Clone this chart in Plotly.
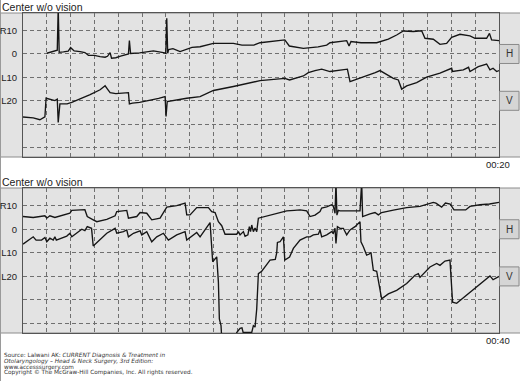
import plotly.graph_objects as go

W, H = 520, 381

# ---------------- data (seconds within panel, degrees; R = +, L = -) ----------------
top_h_t = [1.0, 1.2, 1.34, 1.44, 1.48, 1.52, 1.7, 1.9, 2.0, 2.15, 2.4, 2.6, 2.75, 3.0, 3.24, 3.45, 3.55,
           3.66, 3.72, 3.9, 4.1, 4.35, 4.43, 4.47, 4.52, 4.9, 5.48, 5.9, 6.0, 6.04, 6.08, 6.12, 6.3, 6.6,
           6.88, 7.1, 7.44, 8.0, 8.84, 9.2, 9.7, 9.96, 11.0, 11.19, 11.78, 12.4, 12.76, 12.9, 13.6, 13.7,
           13.78, 14.2, 14.86, 15.35, 15.7, 15.98, 16.4, 16.75, 16.89, 17.24, 17.52, 17.8, 18.01, 18.36,
           18.78, 18.99, 19.48, 19.6, 19.69, 20.0]
top_h_v = [0.3, 0.9, 1.4, 1.6, 20, 0.7, 0.9, 1.2, 2.7, 1.3, 1.0, 0.6, -0.6, -0.6, -1.1, -1.4, -1.0,
           0.6, -1.8, -1.6, -0.9, -0.3, 0.0, 5.7, 0.2, 0.5, 1.3, 0.6, 0.3, 15.2, 0.3, 1.9, 2.3, 1.0,
           1.9, 2.8, 3.1, 4.5, 4.5, 3.8, 3.8, 4.8, 6.0, 3.4, 2.4, 3.0, 3.8, 4.8, 5.7, 3.4,
           5.3, 4.8, 4.8, 6.3, 8.1, 9.8, 9.6, 9.9, 6.7, 6.3, 4.1, 4.5, 7.1, 8.4,
           7.7, 6.7, 6.7, 8.8, 6.0, 5.7]

top_v_t = [0.0, 0.43, 0.71, 0.85, 0.92, 0.97, 1.1, 1.34, 1.44, 1.48, 1.55, 1.85, 2.05, 2.39, 2.82, 3.24,
           3.45, 3.55, 3.66, 3.9, 4.43, 4.47, 4.6, 4.9, 5.34, 5.7, 5.97, 6.01, 6.06, 6.45, 6.88, 7.44,
           8.0, 8.84, 9.96, 11.0, 11.2, 11.78, 11.99, 12.27, 12.55, 12.9, 13.3, 13.63, 13.74, 14.15,
           14.44, 14.8, 15.0, 15.28, 15.56, 15.77, 15.91, 16.12, 16.54, 16.96, 17.52, 18.01, 18.05,
           18.5, 18.72, 18.78, 19.13, 19.48, 19.62, 19.75, 19.9, 20.0]
top_v_v = [-26.9, -27.3, -28.1, -27.5, -26.9, -18.9, -19.3, -19.9, -19.3, -29.2, -21.3, -21.3, -20.7,
           -19.3, -17.4, -15.3, -13.6, -15.0, -16.5, -16.9, -16.5, -21.3, -21.0, -20.7, -19.9, -19.0,
           -18.2, -26.7, -20.3, -19.6, -18.9, -18.2, -15.6, -13.9, -11.4, -10.4, -11.1, -9.4, -8.0,
           -7.1, -6.5, -7.5, -6.8, -6.5, -11.8, -10.4, -9.4, -8.0, -7.1, -8.9, -10.4, -11.1, -15.0,
           -13.6, -12.2, -9.9, -8.2, -6.1, -7.5, -6.8, -5.7, -7.5, -5.4, -4.3, -6.8, -6.1, -7.5, -7.1]

bot_h_t = [0.0, 0.43, 0.92, 1.0, 1.13, 1.34, 1.97, 2.05, 2.6, 2.7, 2.95, 3.1, 3.52, 3.87, 3.94, 4.36,
           4.43, 4.78, 4.92, 5.2, 5.41, 5.76, 6.04, 6.46, 6.81, 6.88, 7.02, 7.3, 7.79, 7.93, 8.07, 8.21,
           8.35, 8.49, 8.98, 9.05, 9.12, 9.26, 9.33, 9.45, 9.51, 9.56, 9.61, 9.68, 9.75, 9.82, 9.89,
           10.5, 11.08, 11.4, 11.64, 11.92, 12.06, 12.27, 12.48, 12.55, 12.76, 12.97, 13.04, 13.11,
           13.15, 13.19, 13.25, 13.32, 14.16, 14.23, 14.27, 14.58, 14.79, 14.93, 15.07, 15.56, 16.12,
           16.68, 17.24, 17.35, 17.59, 17.75, 17.95, 18.11, 18.6, 18.78, 19.2, 19.6, 20.0]
bot_h_v = [5.4, 5.0, 5.7, 4.7, 5.7, 5.0, 6.8, 8.0, 8.3, 5.4, 4.0, 3.2, 4.2, 5.7, 7.5, 8.0,
           4.7, 5.4, 7.1, 6.8, 4.0, 4.7, 9.4, 10.0, 11.1, 6.1, 6.1, 9.2, 9.2, 7.5, 7.1, 3.2,
           1.5, -2.1, -2.1, -1.0, -2.4, -1.0, -3.0, -2.4, 1.1, -1.0, 1.8, -1.0, 0.5, -1.0, 4.7,
           6.2, 7.8, 8.0, 8.2, 7.8, 5.4, 6.0, 7.5, 9.0, 9.5, 10.4, 9.7, 6.8,
           20, 6.0, 8.0, 7.8, 7.8, 20, 5.4, 6.5, 7.1, 6.1, 7.1, 8.1, 9.2,
           9.7, 11.4, 11.1, 9.4, 11.1, 10.7, 8.2, 8.2, 9.7, 10.4, 10.7, 11.4]

bot_v_t = [0.0, 0.22, 0.43, 0.55, 0.78, 0.92, 1.0, 1.13, 1.27, 1.34, 1.4, 1.84, 1.97, 2.05, 2.47, 2.6,
           2.7, 2.88, 2.95, 3.52, 3.87, 3.94, 4.22, 4.36, 4.43, 4.64, 4.92, 4.99, 5.2, 5.41, 5.62, 5.9,
           6.11, 6.46, 6.81, 6.88, 7.3, 7.44, 7.86, 7.97, 8.05, 8.14, 8.21, 8.25, 8.32, 8.35, 8.5, 8.85,
           8.98, 9.12, 9.2, 9.25, 9.61, 9.68, 9.75, 9.82, 9.89, 10.03, 10.2, 10.38, 10.6, 10.66, 10.69,
           10.8, 10.94, 11.0, 11.2, 11.36, 11.64, 11.78, 11.92, 12.06, 12.2, 12.41, 12.48, 12.55,
           12.76, 12.97, 13.04, 13.11, 13.15, 13.21, 13.32, 13.46, 13.6, 13.74, 13.95, 14.16, 14.2,
           14.3, 14.44, 14.55, 14.62, 14.72, 14.86, 14.93, 15.07, 15.35, 15.7, 16.12, 16.47, 16.61,
           16.68, 17.1, 17.38, 17.52, 17.73, 17.94, 18.05, 18.22, 18.36, 18.64, 18.92, 19.2, 19.48,
           19.62, 19.75, 20.0]
bot_v_v = [-6.3, -4.6, -3.2, -4.6, -4.6, -3.5, -5.3, -3.8, -4.6, -3.2, -4.6, -2.9, -1.7, -3.2, 0.0, -0.6,
           1.1, 0.4, -7.1, -1.7, 0.4, -1.7, -1.0, -0.3, -3.2, -1.7, -0.7, -2.4, -1.0, -5.3, -3.2, -1.7,
           -4.6, -2.4, -1.0, -4.6, -1.4, -3.2, 2.8, -13.8, -13.0, -11.7, -22.4, -38.0, -40.9, -46, -55, -55,
           -43.8, -42.0, -41.8, -43.8, -43.8, -40.9, -41.5, -33.8, -18.8, -17.8, -15.5, -13.1, -12.8,
           -10.0, -5.6, -5.3, -3.2, -13.1, -11.8, -8.1, -4.6, -3.9, -3.2, -3.2, -2.4, -2.1, -0.3, -3.2,
           -2.4, -1.0, -1.7, 0.4, -6.0, 1.1, 0.4, 0.4, -2.4, -0.3, 1.1, 3.2, -5.3,
           -7.4, -11.0, -10.5, -9.8, -17.4, -17.8, -21.7, -29.5, -27.4, -25.9, -23.0, -19.5, -18.8,
           -20.4, -16.0, -14.5, -15.3, -13.5, -13.1, -30.9, -31.4, -30.2, -28.1, -25.6, -23.1, -21.0,
           -19.8, -21.4, -20.0]

grid_x = list(range(1, 20))
grid_y = [10, 0, -10, -20, -30, -40]
grid_y_text = ["R10", "0", "L10", "L20", "", ""]
panel_titles = ["Center w/o vision", "Center w/o vision"]
panel_times = ["00:20", "00:40"]
channel_labels = ["H", "V"]
footer_lines = [
    "Source: Lalwani AK: <i>CURRENT Diagnosis &amp; Treatment in</i>",
    "<i>Otolaryngology – Head &amp; Neck Surgery, 3rd Edition:</i>",
    "www.accesssurgery.com",
    "Copyright © The McGraw-Hill Companies, Inc. All rights reserved.",
]


def fx(x):
    return x / W


def fy(y):
    return 1 - y / H


LINE = dict(color="#151515", width=1.35)
BG = "#e3e3e3"
FONT = "Liberation Sans, Arial, sans-serif"

fig = go.Figure()
fig.add_trace(go.Scatter(x=top_h_t, y=top_h_v, mode="lines", line=LINE, xaxis="x", yaxis="y"))
fig.add_trace(go.Scatter(x=top_v_t, y=top_v_v, mode="lines", line=LINE, xaxis="x", yaxis="y"))
fig.add_trace(go.Scatter(x=bot_h_t, y=bot_h_v, mode="lines", line=LINE, xaxis="x2", yaxis="y2"))
fig.add_trace(go.Scatter(x=bot_v_t, y=bot_v_v, mode="lines", line=LINE, xaxis="x2", yaxis="y2"))

panels = [(13, 157), (188, 333)]

common_x = dict(range=[0, 20], tickvals=grid_x, showticklabels=False, ticks="",
                showgrid=True, gridcolor="#707070", gridwidth=1, griddash="4px,3px",
                zeroline=False, showline=True, linecolor="#555", linewidth=1, mirror=True,
                domain=[fx(23), fx(499)], fixedrange=True)
common_y = dict(range=[-44, 17.5], tickvals=grid_y, ticktext=grid_y_text, ticks="",
                showgrid=True, gridcolor="#707070", gridwidth=1, griddash="4px,3px",
                zeroline=False, showline=True, linecolor="#555", linewidth=1, mirror=True,
                tickfont=dict(family=FONT, size=9.5, color="#222"), ticklabelstandoff=3,
                fixedrange=True)

shapes = []
annotations = []
for i, (top, bot) in enumerate(panels):
    shapes.append(dict(type="rect", xref="paper", yref="paper", x0=fx(0), x1=fx(521),
                       y0=fy(bot), y1=fy(top), fillcolor=BG,
                       line=dict(color="#8c8c8c", width=1), layer="below"))
    zero_y = top + (bot - top) * 17.5 / 61.5
    l20_y = top + (bot - top) * 37.5 / 61.5
    for lab, cy in zip(channel_labels, [zero_y, l20_y]):
        shapes.append(dict(type="rect", xref="paper", yref="paper", x0=fx(499.5), x1=fx(519),
                           y0=fy(cy + 9.5), y1=fy(cy - 9.5), fillcolor="#d5d5d5",
                           line=dict(color="#8a8a8a", width=1)))
        annotations.append(dict(x=fx(509.5), y=fy(cy), xref="paper", yref="paper", text=lab,
                                showarrow=False, xanchor="center", yanchor="middle",
                                font=dict(family=FONT, size=10, color="#333")))
    annotations.append(dict(x=fx(0.5), y=fy(top - 13), xref="paper", yref="paper",
                            text=panel_titles[i], showarrow=False, xanchor="left",
                            yanchor="top", borderpad=0,
                            font=dict(family=FONT, size=10.5, color="#222")))
    annotations.append(dict(x=fx(512), y=fy(bot + 7.5), xref="paper", yref="paper",
                            text=panel_times[i], showarrow=False, xanchor="right",
                            yanchor="middle", font=dict(family=FONT, size=9.5, color="#222")))

shapes.append(dict(type="line", xref="paper", yref="paper", x0=fx(0.5), x1=fx(0.5),
                   y0=0, y1=1, line=dict(color="#9a9a9a", width=1), layer="below"))

for j, txt in enumerate(footer_lines):
    annotations.append(dict(x=fx(1.5), y=fy(355.5 + j * 5.8), xref="paper", yref="paper", text=txt,
                            showarrow=False, xanchor="left", yanchor="middle",
                            font=dict(family="DejaVu Sans, Verdana, sans-serif", size=5.75,
                                      color="#333")))

fig.update_layout(
    width=W, height=H, margin=dict(l=0, r=0, t=0, b=0),
    paper_bgcolor="white", plot_bgcolor=BG, showlegend=False,
    xaxis=dict(common_x, anchor="y"),
    yaxis=dict(common_y, anchor="x", domain=[fy(157), fy(13)]),
    xaxis2=dict(common_x, anchor="y2"),
    yaxis2=dict(common_y, anchor="x2", domain=[fy(333), fy(188)]),
    shapes=shapes, annotations=annotations,
)

fig.write_html("out.html", config={"displayModeBar": False})
